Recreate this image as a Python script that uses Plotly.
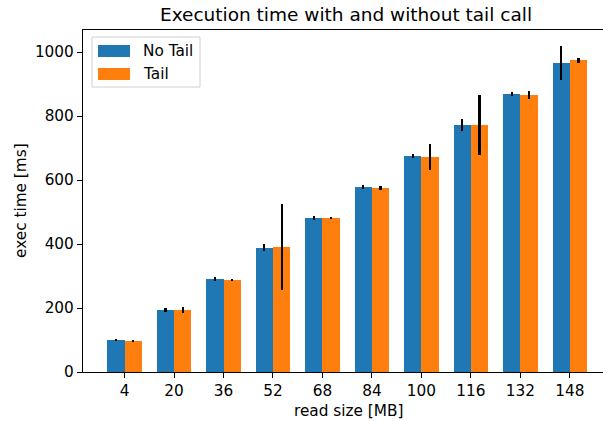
import plotly.graph_objects as go

categories = ["4", "20", "36", "52", "68", "84", "100", "116", "132", "148"]
no_tail = [100, 194, 291, 388, 481, 578, 675, 772, 869, 966]
no_tail_err = [4, 6, 6, 11, 7, 7, 7, 18, 7, 52]
tail = [97, 194, 288, 391, 481, 575, 672, 772, 866, 975]
tail_err = [2, 10, 3, 134, 3, 6, 41, 95, 12, 8]
series_names = ["No Tail", "Tail"]
colors = ["#1f77b4", "#ff7f0e"]
bar_w = 0.35

idx = list(range(len(categories)))
FONT = "DejaVu Sans"
FS = 15.3

fig = go.Figure()
for name, vals, errs, col, sgn in [
    (series_names[0], no_tail, no_tail_err, colors[0], -1),
    (series_names[1], tail, tail_err, colors[1], 1),
]:
    fig.add_trace(go.Bar(
        x=[i + sgn * bar_w / 2 for i in idx], y=vals, width=bar_w, name=name,
        marker=dict(color=col, line=dict(width=0)),
        error_y=dict(type="data", array=errs, color="black", thickness=2.3, width=0),
        showlegend=False,
    ))

L, T, W, H = 83, 30, 603, 421
B = 49
pw, ph = W - L, H - T - B
def px(x):
    return (x - L) / pw
def py(y):
    return (H - B - y) / ph

shapes = [
    dict(type="rect", xref="paper", yref="paper", x0=px(92), x1=px(200), y0=py(87), y1=py(37),
         line=dict(color="#d0d0d0", width=1), fillcolor="rgba(255,255,255,0.8)", layer="above"),
    dict(type="rect", xref="paper", yref="paper", x0=px(98), x1=px(130), y0=py(57), y1=py(45),
         line=dict(width=0), fillcolor=colors[0], layer="above"),
    dict(type="rect", xref="paper", yref="paper", x0=px(98), x1=px(130), y0=py(80), y1=py(68),
         line=dict(width=0), fillcolor=colors[1], layer="above"),
]
tf = dict(family=FONT, size=FS, color="black")
annotations = [
    dict(text=series_names[0], xref="paper", yref="paper", x=px(141), y=py(51), xanchor="left",
         yanchor="middle", showarrow=False, font=tf),
    dict(text=series_names[1], xref="paper", yref="paper", x=px(141), y=py(74), xanchor="left",
         yanchor="middle", showarrow=False, font=tf),
    dict(text="read size [MB]", xref="paper", yref="paper", x=px(348), y=py(411), xanchor="center",
         yanchor="middle", showarrow=False, font=tf),
    dict(text="exec time [ms]", xref="paper", yref="paper", x=px(21), y=py(201), xanchor="center",
         yanchor="middle", textangle=-90, showarrow=False, font=tf),
]

fig.update_layout(
    width=W, height=H,
    margin=dict(l=L, r=0, t=T, b=B, pad=0),
    paper_bgcolor="white", plot_bgcolor="white",
    title=dict(text="Execution time with and without tail call", x=346 / W, xanchor="center",
               y=1 - 15 / H, yanchor="middle", yref="container",
               font=dict(family=FONT, size=18.5, color="black")),
    font=tf,
    shapes=shapes, annotations=annotations,
    bargap=0,
)
fig.update_xaxes(
    range=[-0.84, 9.67], tickvals=idx, ticktext=categories,
    showgrid=False, zeroline=False, showline=True, mirror=True, linecolor="black", linewidth=1.2,
    ticks="outside", ticklen=5, tickcolor="black", tickwidth=1.2,
    tickfont=tf,
)
fig.update_yaxes(
    range=[0, 1069], tickvals=[0, 200, 400, 600, 800, 1000],
    showgrid=False, zeroline=False, showline=True, linecolor="black", linewidth=1.2,
    ticks="outside", ticklen=5, tickcolor="black", tickwidth=1.2,
    tickfont=tf,
)

fig.write_html("out.html", config={"displayModeBar": False},
               post_script="document.body.style.margin='0';document.body.style.overflow='hidden';")
